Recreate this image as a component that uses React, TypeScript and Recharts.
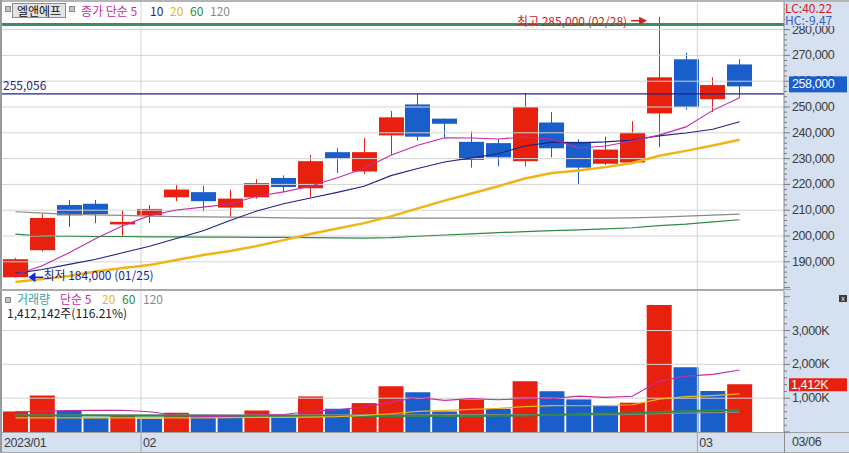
import React from 'react';
import {
  ComposedChart,
  Bar,
  Line,
  XAxis,
  YAxis,
  ReferenceLine,
  ReferenceDot,
  Cell,
} from 'recharts';

// daily candles, 2023-01-25 .. 2023-03-06
const dates = [
  '01/25', '01/26', '01/27', '01/30', '01/31', '02/01', '02/02', '02/03', '02/06', '02/07',
  '02/08', '02/09', '02/10', '02/13', '02/14', '02/15', '02/16', '02/17', '02/20', '02/21',
  '02/22', '02/23', '02/24', '02/27', '02/28', '03/02', '03/03', '03/06',
];
const opens = [
  184000, 194500, 212000, 212500, 204500, 208000, 215000, 217000, 211000, 215000,
  222500, 218500, 232500, 225000, 239000, 251000, 245500, 236500, 236000, 229000,
  244000, 236500, 228000, 228500, 247500, 268500, 253000, 266500,
];
const highs = [
  191500, 208500, 214000, 214000, 210000, 212000, 220000, 219500, 218000, 222000,
  223500, 231500, 234000, 238000, 248500, 255000, 245500, 240500, 237500, 255500,
  248000, 237500, 238500, 244500, 285000, 271000, 261500, 268500,
];
const lows = [
  184000, 194000, 203500, 205000, 199500, 205000, 213500, 209500, 207500, 214500,
  217000, 215000, 224500, 224000, 231500, 237000, 238000, 226500, 227000, 227000,
  230500, 220000, 227500, 228500, 234500, 249000, 248000, 253500,
];
const closes = [
  191000, 207000, 208000, 208500, 205500, 210500, 218000, 213500, 214500, 220500,
  219000, 229000, 230000, 232500, 246000, 238500, 243500, 229500, 230500, 250000,
  234000, 226500, 233500, 240000, 261500, 250000, 258500, 258000,
];
const ma5 = [
  185000, 188500, 193500, 199000, 204000, 207900, 210100, 211200, 212400, 215400,
  217100, 219300, 222600, 226200, 231300, 235200, 238100, 238000, 237600, 238400,
  237500, 234100, 234900, 236800, 239100, 242300, 248700, 253600,
];
const ma10 = [
  185500, 187000, 189000, 191000, 193500, 196000, 199000, 202000, 206000, 209700,
  212500, 214700, 216900, 219300, 223400, 226200, 228700, 230300, 231900, 234900,
  236400, 236100, 236500, 237200, 238800, 239900, 241400, 244300,
];
const ma20 = [
  182200, 183300, 184500, 186200, 187600, 188800, 190700, 192600, 194200, 196100,
  198400, 200800, 202900, 205000, 207600, 210700, 213700, 216500, 219300, 222300,
  224400, 225400, 226700, 228300, 231100, 233000, 235100, 237300,
];
const ma60 = [
  200700, 200000, 199900, 199800, 199800, 199700, 199700, 199600, 199600, 199500,
  199500, 199400, 199300, 199200, 199400, 199900, 200400, 200800, 201300, 201700,
  202100, 202400, 202800, 203200, 204000, 204600, 205500, 206300,
];
const ma120 = [
  209400, 208900, 208400, 208200, 208000, 207700, 207500, 207400, 207300, 207200,
  207000, 206900, 206900, 206900, 206900, 206900, 206900, 206900, 206900, 206900,
  206900, 206900, 206900, 207000, 207300, 207700, 208100, 208500,
];

// volume in thousands of shares
const volumes = [
  608, 1083, 638, 410, 470, 392, 570, 469, 440, 638,
  470, 1053, 688, 855, 1350, 1172, 608, 955, 688, 1498,
  1202, 964, 766, 866, 3754, 1914, 1215, 1412,
];
const vma5 = [
  600, 610, 635, 640, 642, 599, 496, 462, 468, 502,
  517, 614, 658, 741, 883, 1024, 935, 988, 955, 984,
  990, 1061, 1024, 1059, 1510, 1653, 1703, 1832,
];
const vma20 = [
  420, 420, 420, 420, 420, 420, 420, 420, 425, 430,
  430, 440, 455, 490, 540, 610, 640, 670, 700, 753,
  782, 777, 783, 806, 970, 1046, 1078, 1125,
];
const vma60 = [
  490, 490, 488, 486, 484, 482, 480, 478, 476, 474,
  472, 470, 470, 470, 470, 470, 472, 475, 480, 490,
  505, 530, 545, 558, 590, 615, 640, 659,
];
const vma120 = [
  500, 502, 503, 504, 505, 506, 506, 507, 507, 508,
  508, 509, 509, 510, 510, 510, 511, 511, 512, 512,
  513, 514, 515, 520, 540, 560, 575, 588,
];

const priceLabels = [190000, 200000, 210000, 220000, 230000, 240000, 250000, 260000, 270000, 280000];
const volLabels = [1000, 2000, 3000];
const monthStarts = [0, 5, 25];
const monthLabels = ['2023/01', '02', '03'];

const RED = '#e8200e';
const BLUE = '#1a5ecc';
const MAGENTA = '#c42ca4';
const NAVY = '#1c2486';
const GOLD = '#f0b418';
const GREEN = '#2e8a44';
const GRAY = '#8a8a8a';
const GRID = '#d4d4d4';
const PANEL = '#d5e0f0';
const AXIS_TEXT = '#3c3c3c';
const NUM_FONT = "'Liberation Sans', Arial, sans-serif";
const KR_FONT = "'Noto Sans CJK KR', 'Noto Sans', sans-serif";

const lastClose = closes[closes.length - 1];
const lastVol = volumes[volumes.length - 1];

const priceData = dates.map((date, i) => ({
  date,
  open: opens[i],
  high: highs[i],
  low: lows[i],
  close: closes[i],
  ma5: ma5[i],
  ma10: ma10[i],
  ma20: ma20[i],
  ma60: ma60[i],
  ma120: ma120[i],
}));

const volData = dates.map((date, i) => ({
  date,
  vol: volumes[i],
  vma5: vma5[i],
  vma20: vma20[i],
  vma60: vma60[i],
  vma120: vma120[i],
}));

// red when volume rose vs previous day, blue when it fell
const volColors = volumes.map((v, i) => (i === 0 || v >= volumes[i - 1] ? RED : BLUE));

// minor ticks on the axes; the current-value marker goes last so it draws on top
const priceTicks: number[] = [];
for (let v = 180000; v <= 290000; v += 2000) priceTicks.push(v);
priceTicks.push(lastClose);
const volTicks: number[] = [];
for (let v = 0; v <= 4000; v += 200) volTicks.push(v);
volTicks.push(lastVol);

const fmt = (v: number) => v.toLocaleString('en-US');

const axisText = {
  fontSize: 12.5,
  letterSpacing: -0.4,
  fontFamily: NUM_FONT,
};

function Candle(props: any) {
  const { x, y, width, height, payload } = props;
  if (!payload || width == null) return null;
  const { open, close, high, low } = payload;
  const color = close >= open ? RED : BLUE;
  const top = Math.min(y, y + height);
  const span = Math.abs(height);
  const k = high > low ? span / (high - low) : 0;
  const py = (v: number) => top + (high - v) * k;
  const bTop = py(Math.max(open, close));
  const bBot = py(Math.min(open, close));
  const left = Math.round(x);
  const w = Math.round(width);
  const mid = left + Math.floor(w / 2) + 0.5;
  return (
    <g>
      <line x1={mid} x2={mid} y1={top} y2={top + span} stroke={color} strokeWidth={1} />
      <rect x={left} y={bTop} width={w} height={Math.max(1, bBot - bTop)} fill={color} />
    </g>
  );
}

function PriceTick(props: any) {
  const { x, y, payload, index } = props;
  const v = payload.value;
  if (index === priceTicks.length - 1) {
    return (
      <g>
        <rect x={x + 5} y={y - 10} width={58} height={16} fill={BLUE} />
        <text x={x + 8} y={y - 2} dominantBaseline="central" fill="#fff" {...axisText}>
          {fmt(v)}
        </text>
      </g>
    );
  }
  const major = v % 10000 === 0;
  return (
    <g>
      <line x1={x} x2={x + (major ? 6 : 3)} y1={y} y2={y} stroke="#7a7a7a" />
      {priceLabels.includes(v) && (
        <text x={x + 8} y={y} dominantBaseline="central" fill={AXIS_TEXT} {...axisText}>
          {fmt(v)}
        </text>
      )}
    </g>
  );
}

function VolTick(props: any) {
  const { x, y, payload, index } = props;
  const v = payload.value;
  if (index === volTicks.length - 1) {
    return (
      <g>
        <rect x={x + 5} y={y - 6} width={58} height={13} fill={RED} />
        <text x={x + 7} y={y + 0.5} dominantBaseline="central" fill="#fff" {...axisText}>
          {fmt(v)}K
        </text>
      </g>
    );
  }
  const major = v % 1000 === 0;
  return (
    <g>
      <line x1={x} x2={x + (major ? 6 : 3)} y1={y} y2={y} stroke="#7a7a7a" />
      {volLabels.includes(v) && (
        <text x={x + 8} y={y} dominantBaseline="central" fill={AXIS_TEXT} {...axisText}>
          {fmt(v)}K
        </text>
      )}
    </g>
  );
}

// month label under the volume panel, hung on a vertical reference line
const monthLabel = (text: string, withLine: boolean) => (props: any) => {
  const vb = props.viewBox || {};
  const bottom = vb.y + vb.height;
  return (
    <g>
      {withLine && <line x1={vb.x} x2={vb.x} y1={bottom} y2={bottom + 21} stroke="#a0a8b4" />}
      <text x={vb.x + 2} y={bottom + 11} dominantBaseline="central" fill={AXIS_TEXT} {...axisText}>
        {text}
      </text>
    </g>
  );
};

function HighMark(props: any) {
  const { cx, cy } = props;
  const ay = cy + 4;
  return (
    <g>
      <text x={cx - 32} y={ay} textAnchor="end" dominantBaseline="central" fontSize={12} fill="#c81e1e" fontFamily={KR_FONT}>
        최고 285,000 (02/28)
      </text>
      <line x1={cx - 28} x2={cx - 18} y1={ay} y2={ay} stroke="#d42020" strokeWidth={1.5} />
      <path d={`M${cx - 20},${ay - 4} L${cx - 12},${ay} L${cx - 20},${ay + 4} Z`} fill="#d42020" />
    </g>
  );
}

function LowMark(props: any) {
  const { cx, cy } = props;
  return (
    <g>
      <path d={`M${cx + 13},${cy} L${cx + 20},${cy - 5} L${cx + 20},${cy + 5} Z`} fill="#0a28e6" />
      <line x1={cx + 19} x2={cx + 28} y1={cy} y2={cy} stroke="#0a28e6" strokeWidth={1.5} />
      <text x={cx + 28} y={cy - 3} dominantBaseline="central" fontSize={12} fill="#1c2496" fontFamily={KR_FONT}>
        최저 184,000 (01/25)
      </text>
    </g>
  );
}

const avgLabel = (props: any) => {
  const vb = props.viewBox || {};
  return (
    <text x={vb.x + 1} y={vb.y - 9} dominantBaseline="central" fontSize={12} fill={NAVY} fontFamily={KR_FONT}>
      255,056
    </text>
  );
};

const abs = (left: number, top: number, extra: React.CSSProperties = {}): React.CSSProperties => ({
  position: 'absolute',
  left,
  top,
  whiteSpace: 'nowrap',
  fontSize: 12,
  lineHeight: '13px',
  ...extra,
});

const icon = (left: number, top: number) => (
  <div style={abs(left, top, { width: 4, height: 4, border: '1px solid #8a8a8a', background: '#c4c4c4' })} />
);

export default function App() {
  return (
    <div
      style={{
        position: 'absolute',
        left: 0,
        top: 0,
        width: 849,
        height: 453,
        overflow: 'hidden',
        background: PANEL,
        fontFamily: KR_FONT,
      }}
    >
      {/* frame and plot backgrounds */}
      <div style={abs(0, 0, { width: 849, height: 2, background: '#b4b4b4' })} />
      <div style={abs(0, 0, { width: 2, height: 453, background: '#9a9a9a' })} />
      <div style={abs(2, 2, { width: 782, height: 287, background: '#fff' })} />
      <div style={abs(0, 289, { width: 784, height: 2, background: '#a8a8a8' })} />
      <div style={abs(784, 289, { width: 7, height: 1, background: '#a8a8a8' })} />
      <div style={abs(2, 291, { width: 782, height: 141, background: '#fff' })} />
      <div style={abs(0, 432, { width: 849, height: 1, background: '#a0a0a0' })} />
      <div style={abs(0, 452, { width: 849, height: 1, background: '#a8a8a8' })} />
      <div style={abs(784, 432, { width: 1, height: 21, background: '#8c8c8c' })} />

      <div style={{ position: 'absolute', left: 0, top: 0 }}>
        <ComposedChart width={849} height={291} data={priceData} margin={{ top: 2, right: 0, bottom: 2, left: 2 }}>
          <XAxis xAxisId="cat" dataKey="date" type="category" hide padding={{ left: 0, right: 31 }} />
          <XAxis xAxisId="num" type="number" domain={[0, 28]} hide allowDataOverflow padding={{ left: 0, right: 31 }} />
          <YAxis
            orientation="right"
            width={65}
            domain={[179460, 290700]}
            allowDataOverflow
            ticks={priceTicks}
            interval={0}
            tick={PriceTick}
            tickLine={false}
            tickSize={0}
            tickMargin={0}
            axisLine={{ stroke: '#8c8c8c' }}
          />
          {priceLabels.map((v) => (
            <ReferenceLine key={v} xAxisId="cat" y={v} stroke={GRID} />
          ))}
          {monthStarts.slice(1).map((m) => (
            <ReferenceLine key={m} xAxisId="num" x={m} stroke={GRID} />
          ))}
          <ReferenceDot xAxisId="cat" x="02/28" y={285000} r={0} shape={HighMark} />
          <ReferenceDot xAxisId="cat" x="01/25" y={184000} r={0} shape={LowMark} />
          <ReferenceLine xAxisId="cat" y={282000} stroke="#3c8c62" strokeWidth={3} />
          <ReferenceLine xAxisId="cat" y={255056} stroke={NAVY} strokeWidth={1.3} label={avgLabel} />
          <Line xAxisId="cat" dataKey="ma120" stroke={GRAY} strokeWidth={1.2} dot={false} activeDot={false} isAnimationActive={false} />
          <Line xAxisId="cat" dataKey="ma60" stroke={GREEN} strokeWidth={1.2} dot={false} activeDot={false} isAnimationActive={false} />
          <Line xAxisId="cat" dataKey="ma20" stroke={GOLD} strokeWidth={2.5} dot={false} activeDot={false} isAnimationActive={false} />
          <Line xAxisId="cat" dataKey="ma10" stroke={NAVY} strokeWidth={1.1} dot={false} activeDot={false} isAnimationActive={false} />
          <Line xAxisId="cat" dataKey="ma5" stroke={MAGENTA} strokeWidth={1.1} dot={false} activeDot={false} isAnimationActive={false} />
          <Bar
            xAxisId="cat"
            dataKey={(d: any) => [d.low, d.high]}
            shape={Candle}
            barSize={25}
            isAnimationActive={false}
          />
        </ComposedChart>
      </div>

      <div style={{ position: 'absolute', left: 0, top: 291 }}>
        <ComposedChart width={849} height={162} data={volData} margin={{ top: 0, right: 0, bottom: 21, left: 2 }}>
          <XAxis xAxisId="cat" dataKey="date" type="category" hide padding={{ left: 0, right: 31 }} />
          <XAxis xAxisId="num" type="number" domain={[0, 28]} hide allowDataOverflow padding={{ left: 0, right: 31 }} />
          <YAxis
            orientation="right"
            width={65}
            domain={[0, 4170]}
            allowDataOverflow
            ticks={volTicks}
            interval={0}
            tick={VolTick}
            tickLine={false}
            tickSize={0}
            tickMargin={0}
            axisLine={{ stroke: '#8c8c8c' }}
          />
          {volLabels.map((v) => (
            <ReferenceLine key={v} xAxisId="cat" y={v} stroke={GRID} />
          ))}
          {monthStarts.map((m, i) => (
            <ReferenceLine
              key={m}
              xAxisId="num"
              x={m}
              stroke={i === 0 ? 'none' : GRID}
              label={monthLabel(monthLabels[i], i > 0)}
            />
          ))}
          <Bar xAxisId="cat" dataKey="vol" barSize={25} isAnimationActive={false}>
            {volData.map((d, i) => (
              <Cell key={d.date} fill={volColors[i]} />
            ))}
          </Bar>
          <Line xAxisId="cat" dataKey="vma120" stroke={GRAY} strokeWidth={1.2} dot={false} activeDot={false} isAnimationActive={false} />
          <Line xAxisId="cat" dataKey="vma60" stroke={GREEN} strokeWidth={2} dot={false} activeDot={false} isAnimationActive={false} />
          <Line xAxisId="cat" dataKey="vma20" stroke={GOLD} strokeWidth={1.2} dot={false} activeDot={false} isAnimationActive={false} />
          <Line xAxisId="cat" dataKey="vma5" stroke={MAGENTA} strokeWidth={1.1} dot={false} activeDot={false} isAnimationActive={false} />
        </ComposedChart>
      </div>

      {/* price legend */}
      {icon(5, 6)}
      <div
        style={abs(12, 3, {
          width: 52,
          height: 13,
          textAlign: 'center',
          background: '#e4e4e4',
          border: '1px solid #8c8c8c',
          color: '#111',
        })}
      >
        엘앤에프
      </div>
      {icon(69, 6)}
      <span style={abs(81, 4, { color: MAGENTA })}>종가 단순 5</span>
      <span style={abs(150, 4, { color: NAVY })}>10</span>
      <span style={abs(170, 4, { color: GOLD })}>20</span>
      <span style={abs(190, 4, { color: GREEN })}>60</span>
      <span style={abs(210, 4, { color: GRAY })}>120</span>

      {/* volume legend */}
      {icon(5, 297)}
      <span style={abs(17, 292, { color: '#3d9ca6' })}>거래량</span>
      <span style={abs(60, 292, { color: MAGENTA })}>단순 5</span>
      <span style={abs(102, 292, { color: GOLD })}>20</span>
      <span style={abs(122, 292, { color: GREEN })}>60</span>
      <span style={abs(143, 292, { color: GRAY })}>120</span>
      <span style={abs(7, 306, { color: '#222' })}>1,412,142주(116.21%)</span>

      {/* right-side notes */}
      <div style={abs(785, 2, { width: 64, height: 11, lineHeight: '12px', background: PANEL, color: '#d42020' })}>LC:40.22</div>
      <div style={abs(785, 13, { width: 64, height: 13, background: PANEL, color: '#2f5fbf' })}>HC:-9.47</div>
      <div
        style={abs(839, 295, {
          width: 8,
          height: 7,
          background: '#3c3c3c',
          color: '#fff',
          fontSize: 7,
          lineHeight: '7px',
          textAlign: 'center',
          fontFamily: NUM_FONT,
        })}
      >
        x
      </div>
      <span style={abs(792, 436, { fontSize: 12.5, letterSpacing: -0.4, color: AXIS_TEXT, fontFamily: NUM_FONT })}>
        03/06
      </span>
    </div>
  );
}
